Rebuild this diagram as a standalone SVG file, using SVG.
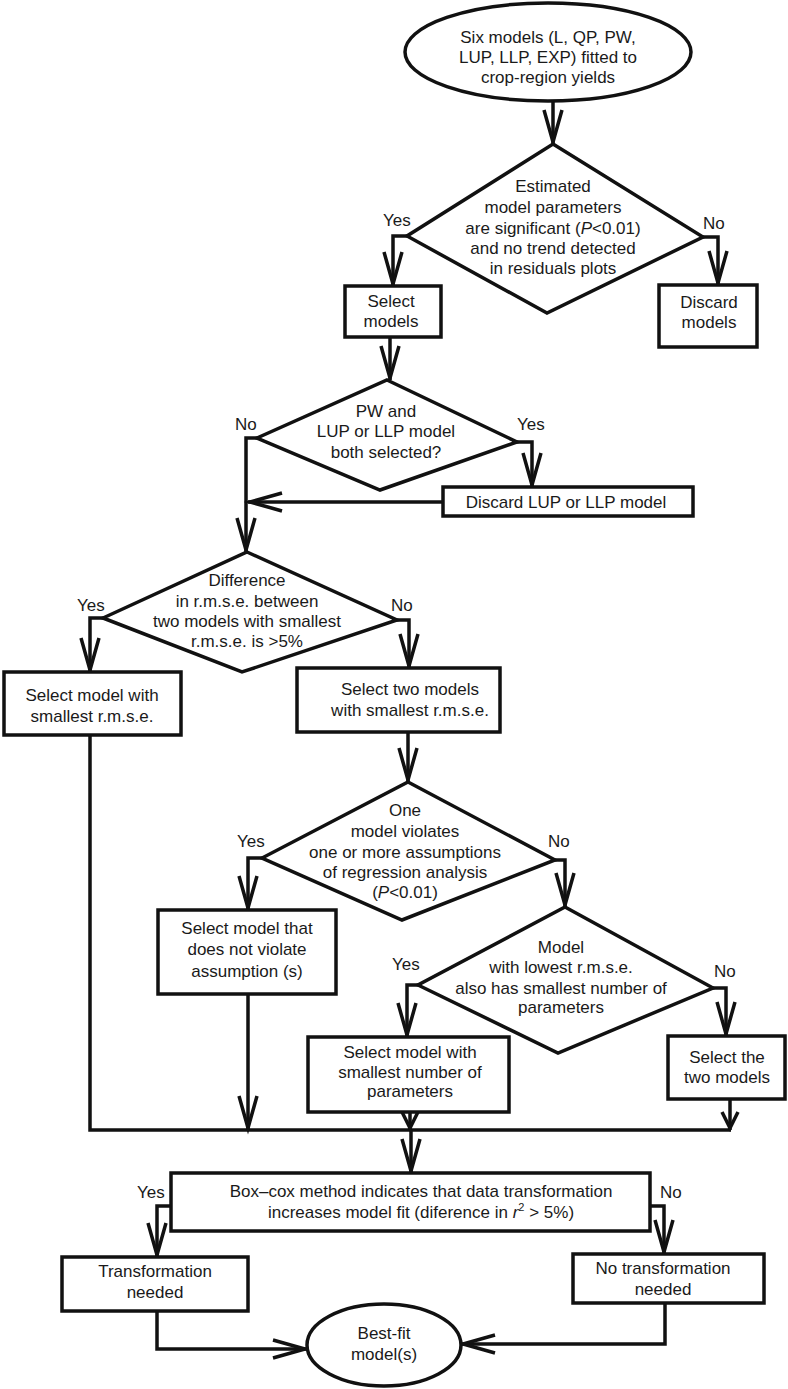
<svg xmlns="http://www.w3.org/2000/svg" width="788" height="1389" viewBox="0 0 788 1389">
<style>
.shape{fill:#fff;stroke:#111;stroke-width:3.5;stroke-linejoin:miter}
.conn{fill:none;stroke:#111;stroke-width:3.5;stroke-linejoin:miter}
.a{marker-end:url(#arr)}
.s{marker-end:url(#arrs)}
text{font-family:"Liberation Sans",Arial,Helvetica,sans-serif;font-size:17px;fill:#1a1a1a}
.c{text-anchor:middle}
.it{font-style:italic}
</style>
<defs>
<marker id="arr" markerUnits="userSpaceOnUse" markerWidth="44" markerHeight="26" refX="38" refY="13" orient="auto" overflow="visible">
<path d="M4,4 L36,13 L4,22" fill="none" stroke="#111" stroke-width="3.5"/>
</marker>
<marker id="arrs" markerUnits="userSpaceOnUse" markerWidth="26" markerHeight="24" refX="21" refY="12" orient="auto" overflow="visible">
<path d="M3,4 L19,12 L3,20" fill="none" stroke="#111" stroke-width="3.5"/>
</marker>
</defs>

<g id="connectors">
<path class="conn a" d="M553,101 V144"/>
<path class="conn a" d="M407,236 H393 V286"/>
<path class="conn a" d="M703,237 H718 V285"/>
<path class="conn a" d="M390,337 V380"/>
<path class="conn a" d="M257,438 H246 V552"/>
<path class="conn a" d="M517,442 H532 V487"/>
<path class="conn a" d="M443,502 H248"/>
<path class="conn a" d="M103,618 H90 V672"/>
<path class="conn a" d="M397,620 H409 V668"/>
<path class="conn a" d="M408,732 V782"/>
<path class="conn a" d="M262,858 H248 V910"/>
<path class="conn a" d="M555,860 H565 V907"/>
<path class="conn a" d="M418,985 H407 V1037"/>
<path class="conn a" d="M713,988 H726 V1036"/>
<path class="conn" d="M90,735 V1130 H731"/>
<path class="conn a" d="M248,994 V1130"/>
<path class="conn s" d="M410,1112 V1130"/>
<path class="conn s" d="M730,1099 V1130"/>
<path class="conn a" d="M411,1130 V1173"/>
<path class="conn a" d="M171,1206 H157 V1257"/>
<path class="conn a" d="M650,1206 H664 V1254"/>
<path class="conn a" d="M157,1311 V1349 H307"/>
<path class="conn a" d="M665,1303 V1344 H461"/>
</g>

<g id="labels">
<text x="383" y="226">Yes</text>
<text x="703" y="229">No</text>
<text x="235" y="430">No</text>
<text x="517" y="430">Yes</text>
<text x="77" y="611">Yes</text>
<text x="391" y="611">No</text>
<text x="237" y="847">Yes</text>
<text x="548" y="847">No</text>
<text x="392" y="970">Yes</text>
<text x="714" y="977">No</text>
<text x="137" y="1198">Yes</text>
<text x="660" y="1198">No</text>
</g>

<g id="start">
<ellipse class="shape" cx="548" cy="52" rx="143" ry="49"/>
<text class="c" x="548" y="43">Six models (L, QP, PW,</text>
<text class="c" x="548" y="63">LUP, LLP, EXP) fitted to</text>
<text class="c" x="548" y="83">crop-region yields</text>
</g>

<g id="decision1">
<polygon class="shape" points="553,144 703,237 547,313 407,236"/>
<text class="c" x="553" y="192">Estimated</text>
<text class="c" x="553" y="213">model parameters</text>
<text class="c" x="553" y="234">are significant (<tspan class="it">P</tspan>&lt;0.01)</text>
<text class="c" x="553" y="254">and no trend detected</text>
<text class="c" x="553" y="274">in residuals plots</text>
</g>

<g id="select-models">
<rect class="shape" x="345" y="286" width="96" height="51"/>
<text class="c" x="391" y="307">Select</text>
<text class="c" x="391" y="327">models</text>
</g>

<g id="discard-models">
<rect class="shape" x="659" y="285" width="98" height="62"/>
<text class="c" x="709" y="308">Discard</text>
<text class="c" x="709" y="328">models</text>
</g>

<g id="decision2">
<polygon class="shape" points="387,380 517,442 380,490 257,438"/>
<text class="c" x="386" y="417">PW and</text>
<text class="c" x="386" y="437">LUP or LLP model</text>
<text class="c" x="386" y="458">both selected?</text>
</g>

<g id="discard-lup">
<rect class="shape" x="443" y="487" width="250" height="29"/>
<text class="c" x="566" y="508">Discard LUP or LLP model</text>
</g>

<g id="decision3">
<polygon class="shape" points="247,552 397,620 242,672 103,618"/>
<text class="c" x="247" y="586">Difference</text>
<text class="c" x="247" y="607">in r.m.s.e. between</text>
<text class="c" x="247" y="627">two models with smallest</text>
<text class="c" x="247" y="647">r.m.s.e. is &gt;5%</text>
</g>

<g id="select-smallest">
<rect class="shape" x="4" y="672" width="177" height="63"/>
<text class="c" x="92" y="701">Select model with</text>
<text class="c" x="92" y="722">smallest r.m.s.e.</text>
</g>

<g id="select-two">
<rect class="shape" x="297" y="668" width="203" height="64"/>
<text class="c" x="410" y="695">Select two models</text>
<text class="c" x="410" y="716">with smallest r.m.s.e.</text>
</g>

<g id="decision4">
<polygon class="shape" points="408,782 555,860 402,920 262,858"/>
<text class="c" x="405" y="816">One</text>
<text class="c" x="405" y="837">model violates</text>
<text class="c" x="405" y="858">one or more assumptions</text>
<text class="c" x="405" y="878">of regression analysis</text>
<text class="c" x="405" y="898">(<tspan class="it">P</tspan>&lt;0.01)</text>
</g>

<g id="select-not-violate">
<rect class="shape" x="158" y="910" width="178" height="84"/>
<text class="c" x="247" y="934">Select model that</text>
<text class="c" x="247" y="955">does not violate</text>
<text class="c" x="247" y="977">assumption (s)</text>
</g>

<g id="decision5">
<polygon class="shape" points="565,907 713,988 558,1053 418,985"/>
<text class="c" x="561" y="953">Model</text>
<text class="c" x="561" y="973">with lowest r.m.s.e.</text>
<text class="c" x="561" y="994">also has smallest number of</text>
<text class="c" x="561" y="1013">parameters</text>
</g>

<g id="select-fewest">
<rect class="shape" x="308" y="1037" width="201" height="75"/>
<text class="c" x="410" y="1058">Select model with</text>
<text class="c" x="410" y="1078">smallest number of</text>
<text class="c" x="410" y="1097">parameters</text>
</g>

<g id="select-both">
<rect class="shape" x="668" y="1036" width="117" height="63"/>
<text class="c" x="727" y="1063">Select the</text>
<text class="c" x="727" y="1083">two models</text>
</g>

<g id="boxcox">
<rect class="shape" x="171" y="1173" width="479" height="58"/>
<text class="c" x="421" y="1197">Box–cox method indicates that data transformation</text>
<text class="c" x="421" y="1218">increases model fit (diference in <tspan class="it">r</tspan><tspan dy="-7" font-size="11">2</tspan><tspan dy="7"> &gt; 5%)</tspan></text>
</g>

<g id="transform-needed">
<rect class="shape" x="62" y="1257" width="186" height="54"/>
<text class="c" x="155" y="1277">Transformation</text>
<text class="c" x="155" y="1298">needed</text>
</g>

<g id="no-transform">
<rect class="shape" x="573" y="1254" width="191" height="49"/>
<text class="c" x="663" y="1274">No transformation</text>
<text class="c" x="663" y="1295">needed</text>
</g>

<g id="best-fit">
<ellipse class="shape" cx="384" cy="1345" rx="77" ry="41"/>
<text class="c" x="384" y="1339">Best-fit</text>
<text class="c" x="384" y="1360">model(s)</text>
</g>
</svg>
